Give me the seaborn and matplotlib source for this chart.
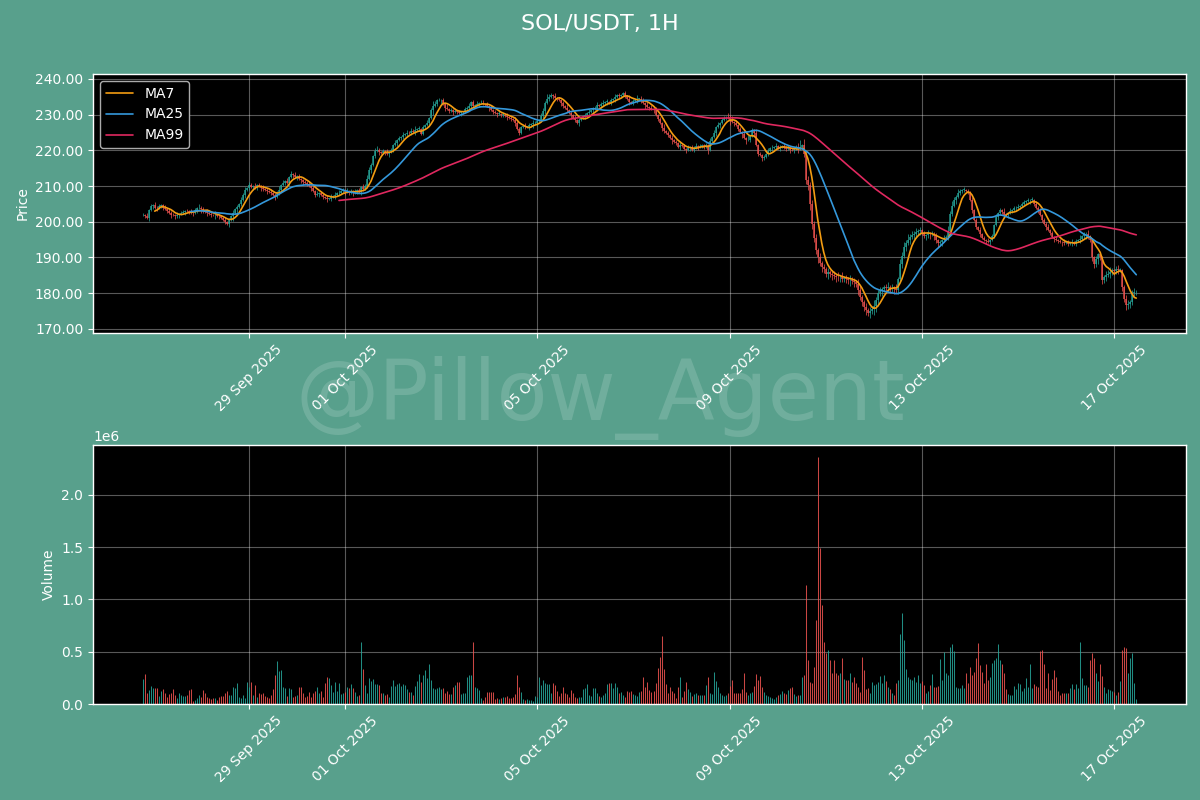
import numpy as np
import pandas as pd
import matplotlib
matplotlib.use("Agg")
import matplotlib.pyplot as plt
import matplotlib.dates as mdates
from matplotlib.ticker import FormatStrFormatter
import seaborn as sns

# ---------------- data ----------------
TITLE = "SOL/USDT, 1H"
START = "2025-09-26 19:00"
OPEN0 = 201.8

CLOSE = [
    202.0, 201.6, 201.0, 203.4, 204.3, 204.6, 204.0, 203.8, 204.4, 204.6,
    204.0, 203.5, 203.0, 202.6, 202.0, 201.8, 201.5, 201.9, 202.1, 202.4,
    202.8, 203.1, 203.0, 202.7, 202.5, 202.4, 203.2, 203.8, 204.0, 203.5,
    203.0, 202.8, 202.5, 202.2, 202.0, 201.8, 202.0, 201.7, 201.5, 201.0,
    200.5, 200.0, 199.5, 200.6, 201.5, 202.4, 203.5, 204.2, 205.0, 206.0,
    207.6, 208.8, 209.5, 210.2, 209.8, 210.0, 209.6, 210.3, 210.0, 209.5,
    209.2, 209.0, 208.6, 208.3, 208.0, 207.4, 207.0, 208.2, 209.0, 210.2,
    211.0, 211.4, 211.0, 212.6, 213.5, 213.0, 212.5, 212.8, 212.0, 211.6,
    211.2, 211.0, 210.5, 210.0, 209.5, 208.6, 207.5, 207.8, 208.0, 207.4,
    207.0, 206.8, 206.5, 206.5, 207.0, 207.3, 207.5, 208.0, 208.2, 208.5,
    208.8, 208.4, 208.5, 208.2, 208.6, 208.0, 208.4, 208.8, 208.4, 209.8,
    209.2, 210.0, 212.0, 214.5, 216.0, 218.5, 219.8, 220.0, 219.5, 219.2,
    219.8, 219.4, 219.0, 219.6, 220.2, 221.5, 222.0, 222.8, 223.4, 223.8,
    224.3, 224.6, 225.0, 224.8, 225.4, 225.2, 225.6, 226.0, 226.0, 224.5,
    226.5, 227.2, 227.6, 229.0, 231.3, 232.5, 233.0, 234.0, 234.0, 234.2,
    233.0, 232.0, 231.5, 231.0, 231.3, 230.8, 231.0, 230.8, 230.5, 230.8,
    230.8, 231.5, 232.0, 232.5, 233.5, 232.4, 232.8, 233.0, 233.2, 233.4,
    233.0, 232.9, 232.5, 231.8, 231.2, 230.8, 230.5, 230.2, 230.3, 230.0,
    230.0, 229.6, 229.3, 229.0, 228.8, 228.5, 227.8, 226.0, 225.0, 226.6,
    226.8, 226.6, 226.6, 227.0, 227.4, 227.6, 227.8, 228.2, 228.5, 229.5,
    231.0, 233.2, 234.5, 235.0, 235.5, 235.2, 234.6, 234.3, 234.0, 233.3,
    232.5, 232.0, 231.3, 230.5, 229.8, 229.0, 228.5, 227.8, 228.5, 229.0,
    229.5, 229.8, 230.4, 230.8, 231.2, 231.6, 232.0, 232.7, 232.5, 233.0,
    233.4, 233.6, 233.6, 233.2, 234.0, 234.5, 235.0, 235.4, 235.2, 235.5,
    236.0, 235.2, 234.5, 233.6, 233.2, 233.8, 234.2, 234.5, 234.5, 234.0,
    233.2, 232.6, 232.2, 232.0, 231.5, 231.3, 230.0, 228.8, 227.6, 226.4,
    225.5, 224.8, 224.3, 223.5, 222.8, 222.4, 222.0, 221.0, 221.5, 221.2,
    220.5, 220.0, 220.6, 221.0, 220.2, 220.8, 221.2, 221.0, 221.3, 221.5,
    221.0, 221.5, 220.0, 222.5, 223.8, 225.0, 226.5, 227.0, 227.6, 228.5,
    229.0, 229.2, 229.0, 228.5, 228.0, 227.6, 227.0, 226.0, 225.2, 224.5,
    223.5, 222.8, 222.9, 224.0, 225.7, 225.0, 221.5, 219.0, 218.7, 218.0,
    218.2, 219.0, 219.8, 220.6, 220.8, 221.0, 221.2, 220.8, 221.0, 221.2,
    220.8, 220.4, 220.6, 220.2, 220.0, 220.5, 220.6, 220.3, 221.0, 221.5,
    219.0, 211.7, 210.3, 205.0, 199.5, 195.5, 192.0, 190.0, 188.5, 187.4,
    186.8, 185.5, 185.8, 185.5, 185.0, 184.8, 184.6, 184.4, 184.6, 184.1,
    184.2, 184.0, 183.6, 183.8, 183.4, 183.0, 182.7, 181.0, 179.0, 177.5,
    176.0, 175.2, 174.5, 175.0, 175.7, 176.5, 178.0, 180.0, 180.5, 181.2,
    181.8, 181.5, 181.8, 181.3, 181.5, 181.3, 181.0, 184.0, 188.3, 190.5,
    193.0, 194.0, 195.0, 195.8, 196.2, 196.7, 197.0, 197.5, 197.7, 196.8,
    196.0, 196.3, 196.8, 196.5, 196.7, 196.0, 195.0, 194.0, 194.4, 195.0,
    195.5, 195.8, 197.5, 202.3, 204.5, 206.0, 207.0, 208.0, 208.5, 208.9,
    208.9, 208.6, 208.4, 206.0, 203.3, 200.5, 198.5, 197.7, 196.5, 195.5,
    194.9, 194.5, 194.4, 194.8, 196.0, 199.0, 201.4, 202.5, 203.3, 202.8,
    202.0, 201.9, 202.5, 203.0, 203.3, 203.8, 204.0, 204.2, 204.5, 205.0,
    205.6, 205.8, 206.0, 206.1, 206.1, 205.0, 204.0, 203.3, 202.0, 200.5,
    199.5, 198.5, 197.7, 196.8, 195.8, 195.2, 194.8, 194.6, 194.4, 194.2,
    194.0, 194.2, 193.9, 194.0, 194.2, 193.9, 194.5, 195.0, 195.3, 196.0,
    196.5, 196.7, 196.0, 194.9, 190.0, 188.3, 189.5, 191.0, 190.2, 183.7,
    184.5, 185.0, 185.5, 186.0, 186.5, 186.2, 186.8, 186.5, 186.5, 181.8,
    178.5, 176.6, 177.0, 177.6, 180.0, 180.2, 180.4,
]

# volume in thousands of SOL
VOLUME_K = [
    239, 283, 102, 134, 172, 150, 150, 150, 76, 127,
    140, 102, 70, 95, 102, 140, 86, 54, 102, 86,
    76, 76, 86, 134, 140, 32, 38, 54, 86, 70,
    134, 102, 64, 54, 45, 54, 54, 38, 70, 76,
    76, 102, 127, 86, 86, 159, 150, 197, 70, 54,
    86, 54, 213, 159, 213, 86, 181, 70, 102, 95,
    102, 76, 64, 54, 86, 140, 277, 410, 318, 324,
    165, 150, 76, 150, 140, 70, 76, 86, 159, 159,
    102, 70, 76, 118, 70, 102, 127, 165, 108, 127,
    70, 204, 261, 245, 181, 118, 213, 127, 197, 95,
    102, 118, 165, 150, 191, 150, 118, 76, 86, 595,
    331, 181, 102, 245, 223, 235, 191, 191, 181, 102,
    102, 86, 95, 64, 172, 229, 172, 191, 197, 172,
    191, 181, 140, 118, 118, 86, 172, 223, 286, 210,
    277, 324, 248, 382, 229, 150, 140, 150, 165, 140,
    150, 108, 127, 95, 95, 165, 181, 213, 213, 95,
    108, 108, 261, 277, 277, 595, 165, 150, 134, 54,
    38, 70, 118, 118, 118, 118, 45, 54, 45, 54,
    70, 64, 76, 54, 54, 70, 95, 277, 165, 118,
    45, 38, 45, 38, 38, 32, 76, 70, 261, 181,
    229, 204, 191, 191, 102, 204, 181, 127, 76, 102,
    165, 102, 95, 64, 134, 108, 70, 54, 64, 64,
    140, 150, 191, 86, 76, 150, 150, 102, 76, 70,
    86, 102, 191, 204, 197, 150, 204, 165, 102, 118,
    86, 64, 127, 118, 127, 95, 86, 76, 115, 127,
    254, 165, 213, 134, 118, 127, 204, 340, 445, 649,
    331, 191, 102, 159, 127, 108, 54, 159, 254, 70,
    127, 213, 140, 118, 76, 95, 108, 86, 86, 86,
    86, 181, 254, 108, 95, 302, 223, 165, 102, 86,
    76, 86, 102, 172, 229, 102, 108, 108, 102, 140,
    293, 118, 86, 102, 118, 172, 286, 229, 267, 165,
    118, 86, 76, 70, 54, 45, 70, 86, 95, 127,
    102, 95, 134, 150, 159, 95, 76, 86, 86, 254,
    277, 1135, 420, 210, 204, 356, 801, 2360, 1495, 944,
    595, 483, 515, 420, 293, 420, 293, 277, 299, 436,
    235, 229, 229, 293, 213, 254, 204, 165, 118, 452,
    324, 140, 150, 102, 213, 181, 191, 213, 267, 204,
    277, 223, 165, 140, 102, 86, 197, 229, 668, 871,
    610, 331, 261, 235, 229, 261, 213, 277, 197, 223,
    181, 108, 127, 181, 286, 159, 165, 172, 426, 229,
    499, 293, 277, 547, 572, 509, 165, 150, 150, 181,
    150, 299, 204, 356, 277, 308, 436, 585, 372, 308,
    197, 382, 229, 261, 388, 420, 436, 572, 420, 382,
    293, 140, 95, 86, 86, 172, 140, 204, 191, 127,
    150, 245, 165, 382, 150, 191, 172, 165, 509, 515,
    382, 150, 293, 134, 235, 324, 254, 127, 86, 102,
    108, 108, 108, 150, 191, 140, 191, 150, 595, 245,
    181, 181, 165, 420, 483, 436, 293, 223, 382, 267,
    165, 108, 140, 134, 127, 118, 86, 118, 223, 515,
    541, 531, 293, 436, 483, 197, 45,
]

# upper / lower wick lengths per candle, one digit each (unit = 0.3 USDT)
WICK_UP = "".join([
    "2131213121", "1213121312", "2121312131", "2131213121", "1312131213",
    "2313213121", "3121312131", "2131213121", "1213121312", "2121313121",
    "2131213121", "3243213421", "2131213121", "3121324131", "2131243121",
    "2131213121", "1213121312", "2121312131", "2131213121", "1312131213",
    "3243213121", "2131213121", "1213121312", "2131213121", "1213121312",
    "2131213121", "3121312131", "2131213121", "1213121312", "2143413121",
    "3151213121", "2131213121", "2131213561", "6343424242", "3242342424",
    "2324232432", "2424253342", "2342424243", "4353424231", "2131213121",
    "3242432421", "3121312131", "2131213121", "4213121312", "2121313121",
    "2131213121", "3121312131", "2131213121", "2434213421", "2342342",
])
WICK_DN = "".join([
    "1213121312", "2121312131", "1312131213", "2131213121", "1213141512",
    "1312131213", "2131213121", "1213121312", "3121312131", "2131213121",
    "1312131213", "2121312131", "1213121312", "2131213121", "1213151213",
    "1312131213", "2121312131", "1213121312", "2131213121", "1213141312",
    "1312131213", "2121312131", "1213121312", "2131213121", "1213121312",
    "1312131213", "2121312131", "1213121312", "2131213121", "1215131213",
    "1312131213", "2121312131", "1213121312", "3456543535", "4353435343",
    "3435343534", "3435366534", "3434353424", "2424234242", "2434243424",
    "2131213121", "2121312131", "1213121312", "2131213121", "1213121312",
    "1312131213", "2121312131", "3432343434", "3424343424", "3434342",
])
WICK_UNIT = 0.3

MA_WINDOWS = [7, 25, 99]
MA_COLORS = ["#f39c12", "#3498db", "#e0285f"]

# ---------------- derived ----------------
n = len(CLOSE)
t = pd.date_range(START, periods=n, freq="h")
close = np.array(CLOSE, dtype=float)
opn = np.r_[OPEN0, close[:-1]]
wu = np.array([int(c) for c in WICK_UP.ljust(n, "1")[:n]]) * WICK_UNIT
wd = np.array([int(c) for c in WICK_DN.ljust(n, "1")[:n]]) * WICK_UNIT
high = np.maximum(opn, close) + wu
low = np.minimum(opn, close) - wd
vol = np.array(VOLUME_K[:n], dtype=float) * 1000.0
up = close >= opn

BG = "#58a08c"
UPC = "#26a69a"
DNC = "#ef5350"
col = [UPC if u else DNC for u in up]

sns.set_style("dark")
plt.rcParams["font.family"] = ["DejaVu Sans"]

fig = plt.figure(figsize=(12, 8), dpi=100, facecolor=BG)
ax1 = fig.add_axes([0.0775, 0.584, 0.9108, 0.3235])
ax2 = fig.add_axes([0.0775, 0.12, 0.9108, 0.324], sharex=ax1)

for ax in (ax1, ax2):
    ax.set_facecolor("black")
    ax.grid(True, color="white", alpha=0.35, linewidth=0.8)
    ax.set_axisbelow(True)
    for s in ax.spines.values():
        s.set_visible(True)
        s.set_color("white")
        s.set_linewidth(1.0)
    ax.tick_params(colors="white", labelcolor="white", labelsize=10,
                   bottom=True, left=True, length=3.5, width=0.8)
    ax.tick_params(axis="x", labelrotation=45)

# candles: wicks and bodies
ax1.vlines(t, low, high, colors=col, linewidth=0.6, alpha=0.85, zorder=2,
           snap=True)
body_top = np.maximum(opn, close)
body_bot = np.minimum(opn, close)
body_top = np.where(body_top - body_bot < 0.15, body_bot + 0.15, body_top)
ax1.vlines(t, body_bot, body_top, colors=col, linewidth=1.1, alpha=0.9,
           zorder=3, snap=True)

# moving averages with seaborn
s = pd.Series(close)
for w, c in zip(MA_WINDOWS, MA_COLORS):
    ma = s.rolling(w).mean()
    m = ma.notna().values
    sns.lineplot(x=t[m], y=ma.values[m], ax=ax1, color=c, linewidth=1.2,
                 label=f"MA{w}", zorder=4)

leg = ax1.legend(loc="upper left", facecolor="black", edgecolor="#aaaaaa",
                 labelcolor="white", fontsize=10, framealpha=1.0)

ax1.set_ylim(168.9, 241.4)
ax1.yaxis.set_major_formatter(FormatStrFormatter("%.2f"))
ax1.set_ylabel("Price", color="white", fontsize=10)
ax1.set_xlabel("")

# volume bars
ax2.vlines(t, 0, vol, colors=col, linewidth=0.75, alpha=0.85, zorder=2,
           snap=True)
ax2.set_ylabel("Volume", color="white", fontsize=10)
ax2.yaxis.get_offset_text().set_color("white")
ax2.yaxis.get_offset_text().set_fontsize(10)
ax2.set_ylim(0, vol.max() * 1.05)

ax1.xaxis.set_major_locator(mdates.DayLocator(bymonthday=[1, 5, 9, 13, 17, 21, 25, 29]))
ax1.xaxis.set_major_formatter(mdates.DateFormatter("%d %b %Y"))
for ax in (ax1, ax2):
    ax.tick_params(axis="x", labelbottom=True)

fig.suptitle(TITLE, color="white", fontsize=16, y=0.983)
fig.text(0.5, 0.503, "@Pillow_Agent", fontsize=60, color="white", alpha=0.15,
         ha="center", va="center")

fig.savefig("out.png", dpi=100, facecolor=BG)
